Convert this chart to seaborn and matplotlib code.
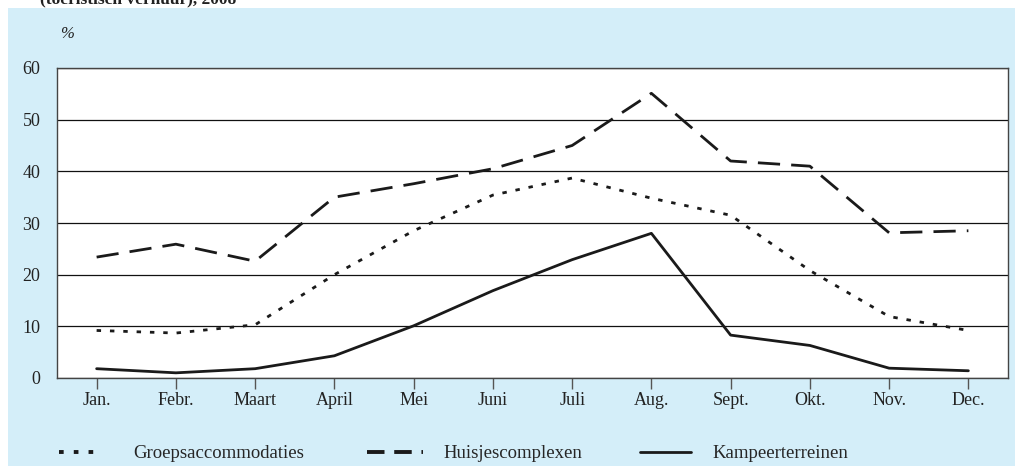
import numpy as np
import pandas as pd
import seaborn as sns
import matplotlib.pyplot as plt
from matplotlib.patches import Rectangle
from matplotlib.lines import Line2D

# Data
months = ['Jan.', 'Febr.', 'Maart', 'April', 'Mei', 'Juni', 'Juli', 'Aug.',
          'Sept.', 'Okt.', 'Nov.', 'Dec.']
groeps = [9.2, 8.7, 10.3, 20.0, 28.5, 35.4, 38.7, 34.8, 31.5, 20.8, 11.9, 9.2]
huisjes = [23.4, 25.9, 22.6, 35.0, 37.6, 40.5, 45.0, 55.1, 42.0, 41.0, 28.1, 28.5]
kampeer = [1.8, 1.0, 1.8, 4.3, 10.1, 16.9, 22.9, 28.0, 8.3, 6.3, 1.9, 1.4]
labels = ['Groepsaccommodaties', 'Huisjescomplexen', 'Kampeerterreinen']

df = pd.DataFrame({'x': np.arange(len(months)), 'groeps': groeps,
                   'huisjes': huisjes, 'kampeer': kampeer})

sns.set_style('white')
plt.rcParams['font.family'] = ['Liberation Serif', 'DejaVu Serif']

fig = plt.figure(figsize=(10.15, 4.66), dpi=100)
W, H = 1015, 466
blue = '#d4eef9'
ink = '#1a1a1a'
fig.patches.append(Rectangle((8 / W, 0), 1 - 8 / W, 1 - 8 / H,
                             transform=fig.transFigure, facecolor=blue,
                             edgecolor='none', zorder=-5))
# cut-off subtitle at the very top
fig.text(40 / W, 1 - 3 / H, '(toeristisch verhuur), 2008', fontsize=12.5,
         fontweight='bold', va='baseline', ha='left', color='#222222')
fig.text(60 / W, 1 - 38 / H, '%', fontsize=12, style='italic', color='#222222')

ax = fig.add_axes([57 / W, 88 / H, 951 / W, 310 / H])
ax.set_facecolor('white')

sns.lineplot(data=df, x='x', y='groeps', ax=ax, color=ink, lw=2.0,
             linestyle=(0, (1.6, 3.2)), label=labels[0])
sns.lineplot(data=df, x='x', y='huisjes', ax=ax, color=ink, lw=2.0,
             linestyle=(0, (8, 4)), label=labels[1])
sns.lineplot(data=df, x='x', y='kampeer', ax=ax, color=ink, lw=2.0,
             label=labels[2])
ax.get_legend().remove()

ax.set_xlim(-0.5, 11.5)
ax.set_ylim(0, 60)
ax.set_yticks(range(0, 61, 10))
ax.set_xticks(range(len(months)))
ax.set_xticklabels(months)
ax.set_xlabel('')
ax.set_ylabel('')
ax.yaxis.grid(True, color='#111111', lw=0.9)
ax.tick_params(axis='x', bottom=True, direction='out', length=8, width=1,
               color='#555555', labelsize=13, pad=2, labelcolor='#222222')
ax.tick_params(axis='y', left=False, length=0, labelsize=13, pad=12,
               labelcolor='#222222')
for s in ax.spines.values():
    s.set_color('#444444')
    s.set_linewidth(1.0)

# legend: one entry per block, placed like the reference
handles = [Line2D([], [], color=ink, lw=2.8, linestyle=(0, (1.2, 2.6))),
           Line2D([], [], color=ink, lw=2.8, linestyle=(0, (4.5, 2.5))),
           Line2D([], [], color=ink, lw=2.0)]
anchors = [42, 350, 623]
hlens = [2.1, 3.0, 2.7]
pads = [1.85, 1.1, 1.15]
for h, lab, x0, hl, p in zip(handles, labels, anchors, hlens, pads):
    fig.legend([h], [lab], loc='lower left', bbox_to_anchor=(x0 / W, -13 / H),
               frameon=False, fontsize=13.5, handlelength=hl,
               handletextpad=p)

fig.savefig('out.png', dpi=100, facecolor='white')
